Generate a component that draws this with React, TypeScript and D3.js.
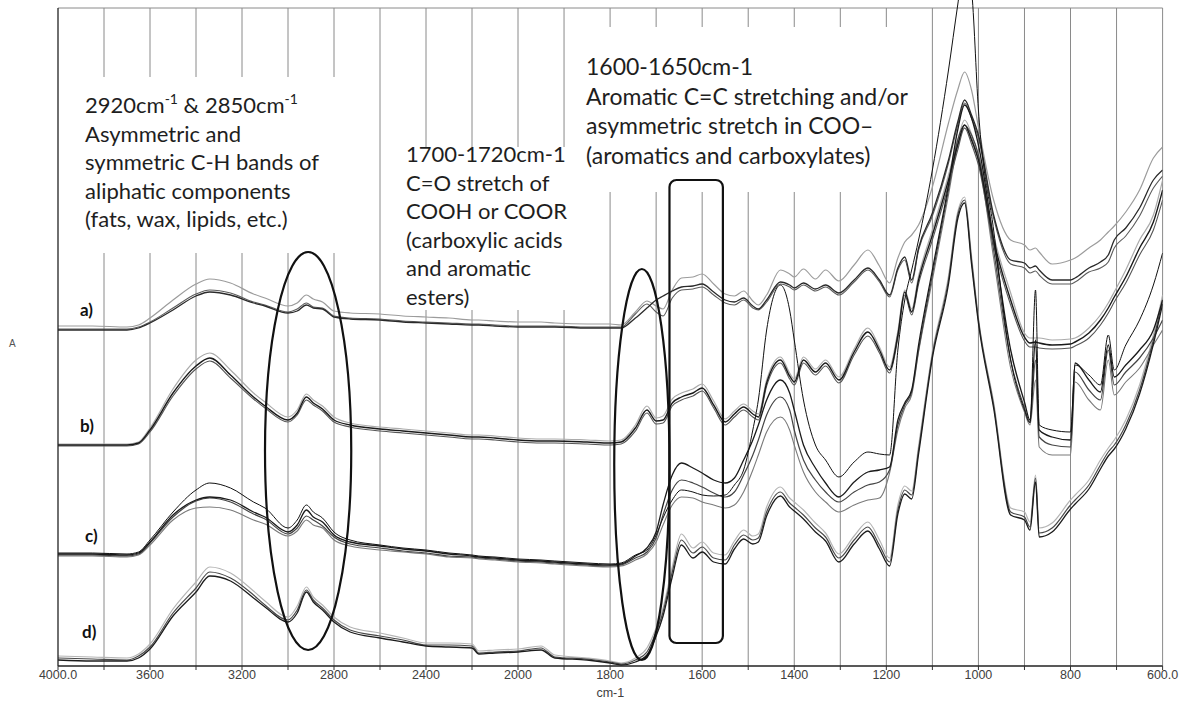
import React from 'react';
import * as d3raw from 'd3';

const d3: any = (d3raw as any).scaleLinear ? d3raw : (d3raw as any).default;

// wavenumber grid (cm-1), shared by all spectra
const WAVENUMBERS = [4000,3850,3700,3650,3600,3500,3400,3340,3250,3150,3100,3000,2960,2920,2890,2850,2800,2730,2600,2500,2400,2300,2200,2170,2100,2000,1950,1920,1850,1800,1776,1745,1720,1700,1685,1665,1645,1620,1600,1575,1550,1530,1510,1490,1478,1460,1430,1410,1400,1380,1354,1332,1303,1270,1240,1215,1193,1175,1160,1145,1130,1100,1065,1045,1030,1015,1000,967,930,900,888,876,868,840,800,790,760,735,718,705,680,650,620,600];

// absorbance (x100, offset-stacked) for each spectrum
const a1 = [340,340,339,341,348,366,382,387,383,372,368,360,363,371,367,364,355,353,352,350,349,348,346,346,345,344,344,343,342,342,341,354,365,360,357,376,388,389,392,382,372,370,375,365,361,371,396,392,389,397,387,396,385,401,416,400,383,408,424,431,441,479,543,576,594,576,539,466,426,421,416,418,414,402,406,408,418,426,434,440,454,476,508,519];
const a2 = [336,336,336,338,343,356,370,374,371,363,360,353,355,361,358,357,349,347,346,344,343,342,341,341,340,339,339,339,338,338,338,348,358,366,370,375,379,380,382,374,366,364,368,360,357,366,384,381,378,383,377,381,373,386,398,386,371,398,409,386,418,453,506,544,566,551,531,451,406,403,398,400,396,386,386,388,398,404,411,426,438,458,486,496];
const a3 = [337,337,337,339,344,358,372,376,373,364,361,354,357,363,359,358,350,348,347,345,344,343,342,342,341,340,340,340,339,339,339,352,362,354,350,368,376,377,379,371,363,361,366,358,356,364,382,379,376,381,375,379,371,384,396,384,369,396,406,383,416,450,503,541,563,548,528,448,402,398,393,395,391,382,382,384,394,398,404,418,430,450,478,490];
const b1 = [222,222,222,224,238,277,306,313,296,273,264,249,256,272,266,260,249,243,239,237,235,233,231,231,230,228,227,227,226,225,226,241,260,248,250,267,273,277,282,265,247,255,262,255,252,286,309,293,287,309,297,306,289,317,338,319,299,335,376,357,390,436,491,526,546,532,511,431,373,333,328,328,328,326,327,328,338,351,363,374,396,426,451,486];
const b2 = [221,221,221,223,236,273,300,308,291,269,260,246,253,269,263,257,246,241,237,235,233,231,229,229,228,226,225,225,224,223,224,238,256,245,246,263,269,273,278,261,244,252,259,252,249,283,306,290,284,306,294,303,286,314,334,316,296,331,374,354,386,431,486,521,541,526,506,426,366,329,323,324,323,321,322,324,333,346,358,369,389,418,444,476];
const b3 = [220,220,220,222,234,270,297,305,288,267,258,244,251,266,261,255,244,239,235,233,231,229,227,227,226,224,223,223,222,221,222,235,253,242,243,260,266,270,275,258,241,249,256,249,246,280,303,287,281,303,291,300,283,311,330,313,293,328,371,351,382,426,481,516,538,522,501,421,361,325,319,319,318,317,318,320,328,341,353,364,383,411,436,466];
const c0 = [113,113,112,114,126,154,176,183,178,164,158,138,146,161,154,148,134,126,121,118,116,113,111,110,109,107,106,105,103,102,103,111,116,131,148,166,176,174,171,170,171,181,196,236,266,336,381,356,326,266,221,206,189,204,214,212,211,316,366,396,426,496,596,661,706,676,556,436,306,256,243,376,241,236,234,301,291,281,331,296,321,346,381,413];
const c1 = [112,112,111,113,124,151,166,169,166,154,149,134,141,156,149,144,131,124,120,117,115,112,110,109,108,106,105,104,102,101,102,110,118,134,161,191,203,198,193,186,183,188,206,226,241,266,286,273,256,221,198,183,169,184,194,196,199,246,263,276,321,396,481,536,561,548,521,426,316,264,246,326,236,229,226,303,286,274,321,289,301,316,336,366];
const c2 = [111,111,110,112,123,149,165,168,164,152,147,132,138,150,146,140,129,122,118,115,113,110,109,108,107,105,104,103,101,100,101,108,114,128,151,176,186,183,179,173,169,174,191,211,226,251,269,256,236,206,186,174,164,174,181,184,196,241,261,274,316,391,476,526,541,531,511,416,306,258,244,306,229,221,219,294,276,266,316,281,294,308,328,346];
const c3 = [110,110,109,111,121,146,158,159,156,146,142,130,135,146,141,138,126,120,116,114,112,109,108,107,106,104,103,102,100,99,100,106,112,124,141,161,169,168,164,161,158,161,174,196,211,234,249,236,221,194,174,164,154,161,166,168,193,236,258,271,314,386,471,521,538,528,506,408,298,254,241,286,219,211,211,284,266,256,306,271,284,298,321,336];
const d1 = [10,9,8,12,22,57,84,99,93,75,65,49,60,79,69,61,49,39,33,28,23,23,22,15,16,17,20,11,8,5,3,8,18,38,58,99,132,118,124,113,111,125,136,130,132,159,179,168,164,156,143,133,112,130,144,126,108,161,180,175,220,314,390,454,469,410,348,264,158,154,144,191,138,143,166,171,186,206,218,226,246,281,331,371];
const d2 = [8,7,6,10,19,53,78,94,88,71,61,46,56,76,66,58,46,36,30,26,21,21,20,13,14,15,18,9,7,4,2,6,14,34,54,94,126,113,119,108,106,121,131,126,128,154,174,163,159,151,138,129,108,126,139,121,104,156,176,171,216,311,386,451,466,406,346,261,154,149,139,188,133,138,161,166,181,201,214,221,241,276,326,366];
const d3s = [6,5,5,8,17,50,74,90,85,68,59,44,53,74,64,56,44,34,28,24,20,19,18,12,13,14,16,8,6,3,1,4,11,30,50,89,121,108,114,104,102,117,127,122,124,150,170,159,155,147,134,125,104,122,135,117,100,152,172,167,212,308,382,447,463,402,343,258,151,146,136,184,129,134,157,162,177,197,210,217,237,272,322,362];

// axis ticks
const TICK_VALUES = [4000, 3600, 3200, 2800, 2400, 2000, 1800, 1600, 1400, 1200, 1000, 800, 600];
const TICK_LABELS = ['4000.0', '3600', '3200', '2800', '2400', '2000', '1800', '1600', '1400', '1200', '1000', '800', '600.0'];
const GRID_VALUES = [3800, 3600, 3400, 3200, 3000, 2800, 2600, 2400, 2200, 2000, 1900, 1800, 1700, 1600, 1500, 1400, 1300, 1200, 1100, 1000, 900, 800, 700, 600];

const GROUP_LABELS = ['a)', 'b)', 'c)', 'd)'];

// annotation ranges [wnStart, wnEnd, vLow, vHigh]
const ELLIPSE_CH = [3100, 2725, 16, 414];
const ELLIPSE_CO = [1791, 1671, 6, 397];
const RECT_CC = [1671, 1555, 23, 486];

const BOX1 = ['Asymmetric and', 'symmetric C-H bands of', 'aliphatic components', '(fats, wax, lipids, etc.)'];
const BOX2 = ['1700-1720cm-1', 'C=O stretch of', 'COOH or COOR', '(carboxylic acids', 'and aromatic', 'esters)'];
const BOX3 = ['1600-1650cm-1', 'Aromatic C=C stretching and/or', 'asymmetric stretch in COO\u2013', '(aromatics and carboxylates)'];

const SERIES = [
  { values: d1, color: '#b5b5b5', width: 1.2 },
  { values: c3, color: '#7a7a7a', width: 1.1 },
  { values: b1, color: '#ababab', width: 1.2 },
  { values: a1, color: '#9c9c9c', width: 1.2 },
  { values: a3, color: '#5c5c5c', width: 1.1 },
  { values: c2, color: '#444444', width: 1.2 },
  { values: b3, color: '#555555', width: 1.1 },
  { values: d2, color: '#4a4a4a', width: 1.2 },
  { values: a2, color: '#2a2a2a', width: 1.3 },
  { values: b2, color: '#1a1a1a', width: 1.4 },
  { values: c1, color: '#1a1a1a', width: 1.3 },
  { values: d3s, color: '#1c1c1c', width: 1.3 },
  { values: c0, color: '#111111', width: 1.0 },
];

const TEXT_FONT = "Lato, 'Open Sans', sans-serif";
const AXIS_FONT = "'Liberation Sans', Arial, sans-serif";

export default function App() {
  const left = 58, right = 1162.6, top = 8, bottom = 666;
  const x = d3.scaleLinear().domain([4000, 2000, 600]).range([left, 518, right]);
  const y = d3.scaleLinear().domain([0, 658]).range([bottom, top]);
  const line = d3
    .line()
    .x((_: number, i: number) => x(WAVENUMBERS[i]))
    .y((v: number) => y(v))
    .curve(d3.curveMonotoneX);

  const ell = (r: number[]) => {
    const x0 = x(r[0]), x1 = x(r[1]), y0 = y(r[2]), y1 = y(r[3]);
    return { cx: (x0 + x1) / 2, cy: (y0 + y1) / 2, rx: Math.abs(x1 - x0) / 2, ry: Math.abs(y0 - y1) / 2 };
  };
  const e1 = ell(ELLIPSE_CH);
  const e2 = ell(ELLIPSE_CO);
  const rx0 = x(RECT_CC[0]), rx1 = x(RECT_CC[1]), ry0 = y(RECT_CC[3]), ry1 = y(RECT_CC[2]);

  const labelPos = [
    [80, 316],
    [80, 432],
    [85, 542],
    [82, 638],
  ];

  const textFill = '#1e1e1e';
  const fs = 22;
  const lh = 28.5;

  return (
    <svg width={1181} height={704} style={{ position: 'absolute', left: 0, top: 0 }}>
      <defs>
        <clipPath id="plotClip">
          <rect x={left} y={0} width={right - left} height={bottom} />
        </clipPath>
      </defs>
      <rect x={0} y={0} width={1181} height={704} fill="#ffffff" />

      {GRID_VALUES.map((g) => (
        <line key={g} x1={x(g)} x2={x(g)} y1={top} y2={bottom} stroke="#8a8a8a" strokeWidth={1} />
      ))}
      <line x1={left} x2={right} y1={top} y2={top} stroke="#8a8a8a" strokeWidth={1} />

      <rect x={62} y={77} width={314} height={176} fill="#ffffff" />
      <rect x={398} y={147} width={177} height={163} fill="#ffffff" />
      <rect x={571} y={27} width={335} height={165} fill="#ffffff" />

      <g clipPath="url(#plotClip)" fill="none" strokeLinejoin="round">
        {SERIES.map((s, i) => (
          <path key={i} d={line(s.values) || ''} stroke={s.color} strokeWidth={s.width} />
        ))}
      </g>

      <ellipse cx={e1.cx} cy={e1.cy} rx={e1.rx} ry={e1.ry} fill="none" stroke="#111" strokeWidth={2.2} />
      <ellipse cx={e2.cx} cy={e2.cy} rx={e2.rx} ry={e2.ry} fill="none" stroke="#111" strokeWidth={2.2} />
      <rect x={rx0} y={ry0} width={rx1 - rx0} height={ry1 - ry0} rx={7} ry={7} fill="none" stroke="#111" strokeWidth={2.2} />

      <line x1={left} x2={left} y1={top} y2={bottom} stroke="#222" strokeWidth={1.3} />
      <line x1={left} x2={right} y1={bottom} y2={bottom} stroke="#222" strokeWidth={1.5} />
      {[4000, ...GRID_VALUES].map((g) => (
        <line key={'t' + g} x1={x(g)} x2={x(g)} y1={bottom} y2={bottom + 4} stroke="#333" strokeWidth={1} />
      ))}
      {TICK_VALUES.map((t, i) => (
        <text key={'l' + t} x={x(t)} y={679} textAnchor="middle" fontFamily={AXIS_FONT} fontSize={12.5} fill="#404040">
          {TICK_LABELS[i]}
        </text>
      ))}
      <text x={(left + right) / 2} y={697} textAnchor="middle" fontFamily={AXIS_FONT} fontSize={12.5} fill="#404040">
        cm-1
      </text>
      <text x={9} y={347} fontFamily={AXIS_FONT} fontSize={10} fill="#555">
        A
      </text>

      {GROUP_LABELS.map((g, i) => (
        <text key={g} x={labelPos[i][0]} y={labelPos[i][1]} fontFamily={TEXT_FONT} fontWeight="bold" fontSize={17} fill="#111">
          {g}
        </text>
      ))}

      <g fontFamily={TEXT_FONT} fontSize={fs} fill={textFill}>
        <text x={85} y={113}>
          <tspan>2920cm</tspan>
          <tspan dy={-9} fontSize={14}>-1</tspan>
          <tspan dy={9}>{' & 2850cm'}</tspan>
          <tspan dy={-9} fontSize={14}>-1</tspan>
        </text>
        {BOX1.map((t, i) => (
          <text key={'b1' + i} x={85} y={113 + lh * (i + 1)}>
            {t}
          </text>
        ))}
        {BOX2.map((t, i) => (
          <text key={'b2' + i} x={406} y={162 + lh * i}>
            {t}
          </text>
        ))}
        {BOX3.map((t, i) => (
          <text key={'b3' + i} x={586} y={75 + 29.5 * i} fontSize={23}>
            {t}
          </text>
        ))}
      </g>
    </svg>
  );
}
